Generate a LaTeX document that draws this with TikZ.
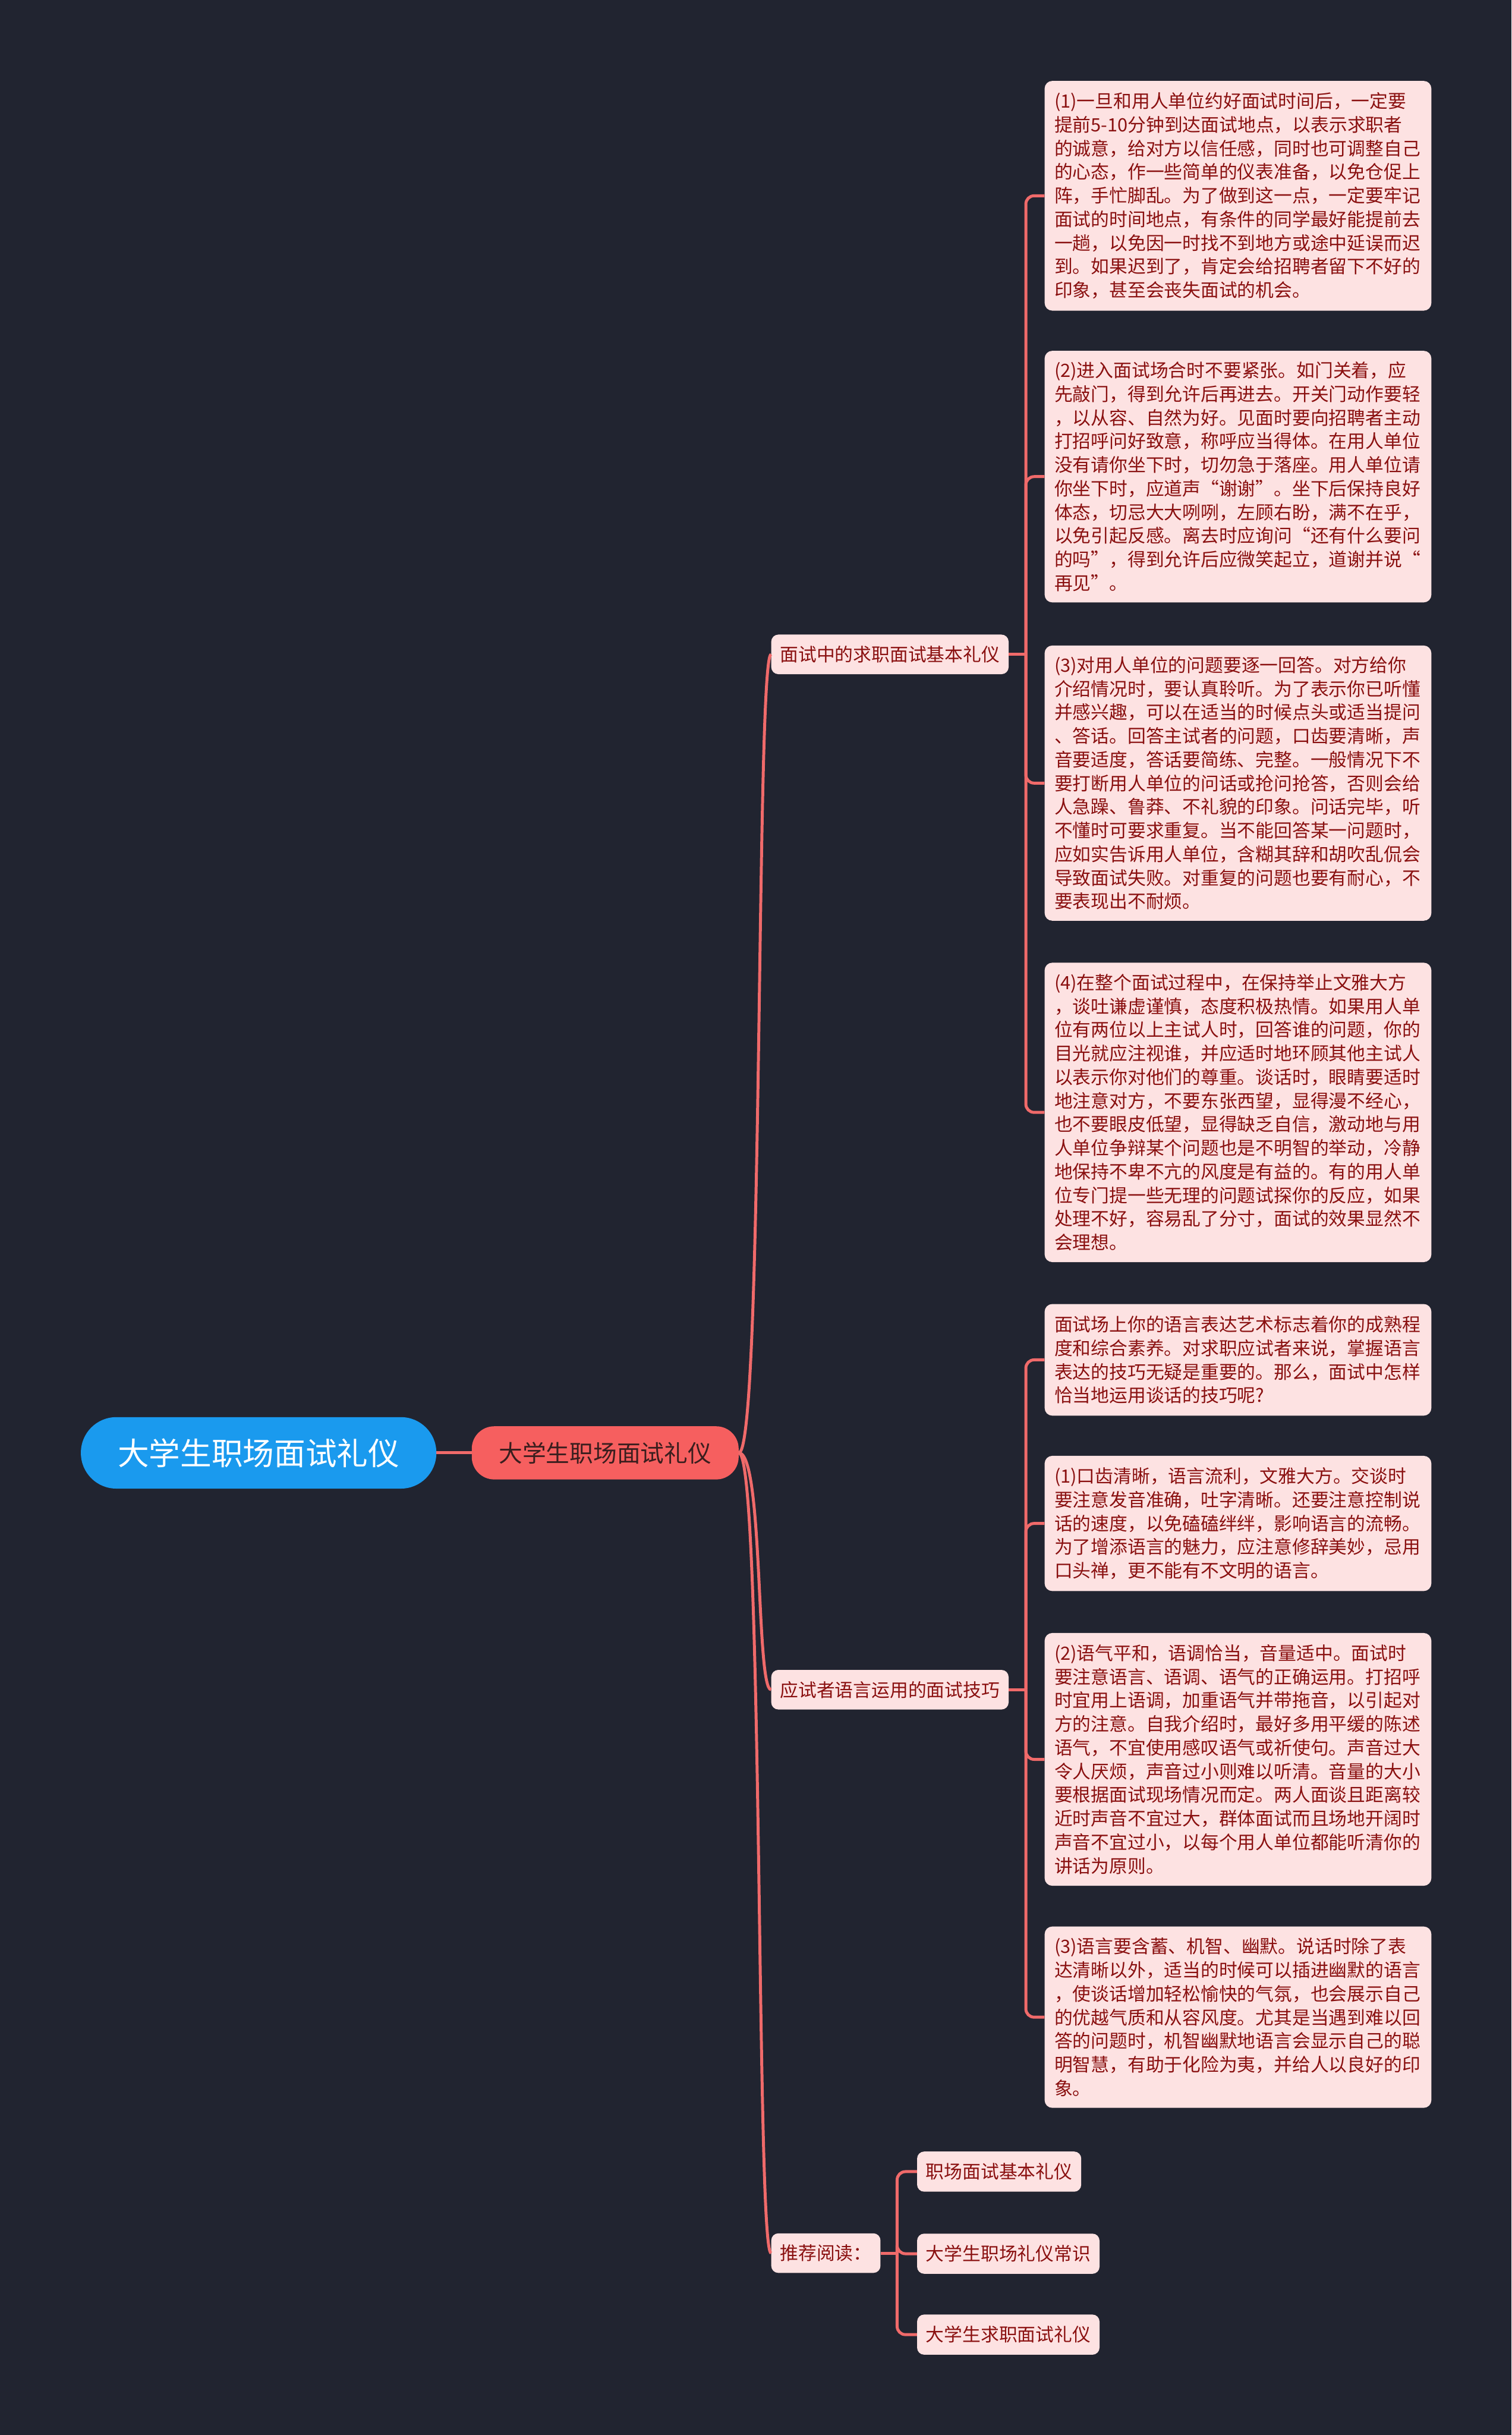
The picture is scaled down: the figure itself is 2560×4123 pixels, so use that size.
\documentclass[tikz,border=0pt]{standalone}
\usepackage{fontspec}
\setmainfont{Noto Sans CJK SC}
\definecolor{bg}{HTML}{212430}
\definecolor{rootfill}{HTML}{1A9AEE}
\definecolor{midfill}{HTML}{F65F5F}
\definecolor{midtext}{HTML}{3A1E1E}
\definecolor{leaffill}{HTML}{FDE2E2}
\definecolor{leaftext}{HTML}{8A1010}
\definecolor{linecol}{HTML}{F06A6A}
\begin{document}
\begin{tikzpicture}[x=1pt,y=-1pt,
  conn/.style={draw=linecol,line width=5pt},
  rootnode/.style={fill=rootfill,text=white,rounded corners=60pt,minimum width=602pt,minimum height=121pt,inner sep=0pt,font=\fontsize{53}{60}\selectfont},
  midnode/.style={fill=midfill,text=midtext,rounded corners=38pt,minimum width=452pt,minimum height=90pt,inner sep=0pt,font=\fontsize{40}{48}\selectfont},
  branchnode/.style={fill=leaffill,text=leaftext,rounded corners=12pt,anchor=west,inner xsep=15pt,inner ysep=0pt,minimum height=67pt,font=\fontsize{31}{40}\selectfont},
  leafbox/.style={fill=leaffill,text=leaftext,rounded corners=13pt,anchor=west,text width=622pt,inner xsep=16.5pt,inner ysep=0pt,align=left,font=\fontsize{31}{40}\selectfont}]
\useasboundingbox (0,0) rectangle (2560,4123);
\fill[bg] (0,0) rectangle (2560,4123);

% root and centre
\node[rootnode] (root) at (438,2460) {大学生职场面试礼仪};
\node[midnode] (mid) at (1025,2460) {大学生职场面试礼仪};

% branches
\node[branchnode] (b1) at (1306,1108) {面试中的求职面试基本礼仪};
\node[branchnode] (b2) at (1306,2861) {应试者语言运用的面试技巧};
\node[branchnode] (b3) at (1306,3815) {推荐阅读：};

% leaves of branch 1
\node[leafbox,minimum height=389pt] (l1) at (1769,331.5) {(1)一旦和用人单位约好面试时间后，一定要\\提前5-10分钟到达面试地点，以表示求职者\\的诚意，给对方以信任感，同时也可调整自己\\的心态，作一些简单的仪表准备，以免仓促上\\阵，手忙脚乱。为了做到这一点，一定要牢记\\面试的时间地点，有条件的同学最好能提前去\\一趟，以免因一时找不到地方或途中延误而迟\\到。如果迟到了，肯定会给招聘者留下不好的\\印象，甚至会丧失面试的机会。};
\node[leafbox,minimum height=426pt] (l2) at (1769,807) {(2)进入面试场合时不要紧张。如门关着，应\\先敲门，得到允许后再进去。开关门动作要轻\\，以从容、自然为好。见面时要向招聘者主动\\打招呼问好致意，称呼应当得体。在用人单位\\没有请你坐下时，切勿急于落座。用人单位请\\你坐下时，应道声“谢谢”。坐下后保持良好\\体态，切忌大大咧咧，左顾右盼，满不在乎，\\以免引起反感。离去时应询问“还有什么要问\\的吗”，得到允许后应微笑起立，道谢并说“\\再见”。};
\node[leafbox,minimum height=466pt] (l3) at (1769,1326) {(3)对用人单位的问题要逐一回答。对方给你\\介绍情况时，要认真聆听。为了表示你已听懂\\并感兴趣，可以在适当的时候点头或适当提问\\、答话。回答主试者的问题，口齿要清晰，声\\音要适度，答话要简练、完整。一般情况下不\\要打断用人单位的问话或抢问抢答，否则会给\\人急躁、鲁莽、不礼貌的印象。问话完毕，听\\不懂时可要求重复。当不能回答某一问题时，\\应如实告诉用人单位，含糊其辞和胡吹乱侃会\\导致面试失败。对重复的问题也要有耐心，不\\要表现出不耐烦。};
\node[leafbox,minimum height=507pt] (l4) at (1769,1883.5) {(4)在整个面试过程中，在保持举止文雅大方\\，谈吐谦虚谨慎，态度积极热情。如果用人单\\位有两位以上主试人时，回答谁的问题，你的\\目光就应注视谁，并应适时地环顾其他主试人\\以表示你对他们的尊重。谈话时，眼睛要适时\\地注意对方，不要东张西望，显得漫不经心，\\也不要眼皮低望，显得缺乏自信，激动地与用\\人单位争辩某个问题也是不明智的举动，冷静\\地保持不卑不亢的风度是有益的。有的用人单\\位专门提一些无理的问题试探你的反应，如果\\处理不好，容易乱了分寸，面试的效果显然不\\会理想。};

% leaves of branch 2
\node[leafbox,minimum height=189pt] (l5) at (1769,2302.5) {面试场上你的语言表达艺术标志着你的成熟程\\度和综合素养。对求职应试者来说，掌握语言\\表达的技巧无疑是重要的。那么，面试中怎样\\恰当地运用谈话的技巧呢?};
\node[leafbox,minimum height=229pt] (l6) at (1769,2579.5) {(1)口齿清晰，语言流利，文雅大方。交谈时\\要注意发音准确，吐字清晰。还要注意控制说\\话的速度，以免磕磕绊绊，影响语言的流畅。\\为了增添语言的魅力，应注意修辞美妙，忌用\\口头禅，更不能有不文明的语言。};
\node[leafbox,minimum height=428pt] (l7) at (1769,2979) {(2)语气平和，语调恰当，音量适中。面试时\\要注意语言、语调、语气的正确运用。打招呼\\时宜用上语调，加重语气并带拖音，以引起对\\方的注意。自我介绍时，最好多用平缓的陈述\\语气，不宜使用感叹语气或祈使句。声音过大\\令人厌烦，声音过小则难以听清。音量的大小\\要根据面试现场情况而定。两人面谈且距离较\\近时声音不宜过大，群体面试而且场地开阔时\\声音不宜过小，以每个用人单位都能听清你的\\讲话为原则。};
\node[leafbox,minimum height=307pt] (l8) at (1769,3415.5) {(3)语言要含蓄、机智、幽默。说话时除了表\\达清晰以外，适当的时候可以插进幽默的语言\\，使谈话增加轻松愉快的气氛，也会展示自己\\的优越气质和从容风度。尤其是当遇到难以回\\答的问题时，机智幽默地语言会显示自己的聪\\明智慧，有助于化险为夷，并给人以良好的印\\象。};

% recommended reading
\node[branchnode,minimum height=68pt] (r1) at (1553,3677) {职场面试基本礼仪};
\node[branchnode,minimum height=68pt] (r2) at (1553,3816) {大学生职场礼仪常识};
\node[branchnode,minimum height=68pt] (r3) at (1553,3953) {大学生求职面试礼仪};

% connectors root -> mid
\draw[conn] (root.east) -- (mid.west);

% mid -> branches
\draw[conn] (mid.east) .. controls +(42,0) and +(-26,0) .. (b1.west);
\draw[conn] (mid.east) .. controls +(42,0) and +(-26,0) .. (b2.west);
\draw[conn] (mid.east) .. controls +(42,0) and +(-26,0) .. (b3.west);

% branch 1 -> leaves
\coordinate (t1) at ([xshift=29pt]b1.east);
\draw[conn] (b1.east) -- (t1);
\foreach \n in {l1,l2,l3,l4}{
  \draw[conn,rounded corners=14pt] (t1) |- (\n.west);
}
% branch 2 -> leaves
\coordinate (t2) at ([xshift=29pt]b2.east);
\draw[conn] (b2.east) -- (t2);
\foreach \n in {l5,l6,l7,l8}{
  \draw[conn,rounded corners=14pt] (t2) |- (\n.west);
}
% branch 3 -> recommended
\coordinate (t3) at ([xshift=28pt]b3.east);
\draw[conn] (b3.east) -- (t3);
\foreach \n in {r1,r2,r3}{
  \draw[conn,rounded corners=14pt] (t3) |- (\n.west);
}
\end{tikzpicture}
\end{document}
